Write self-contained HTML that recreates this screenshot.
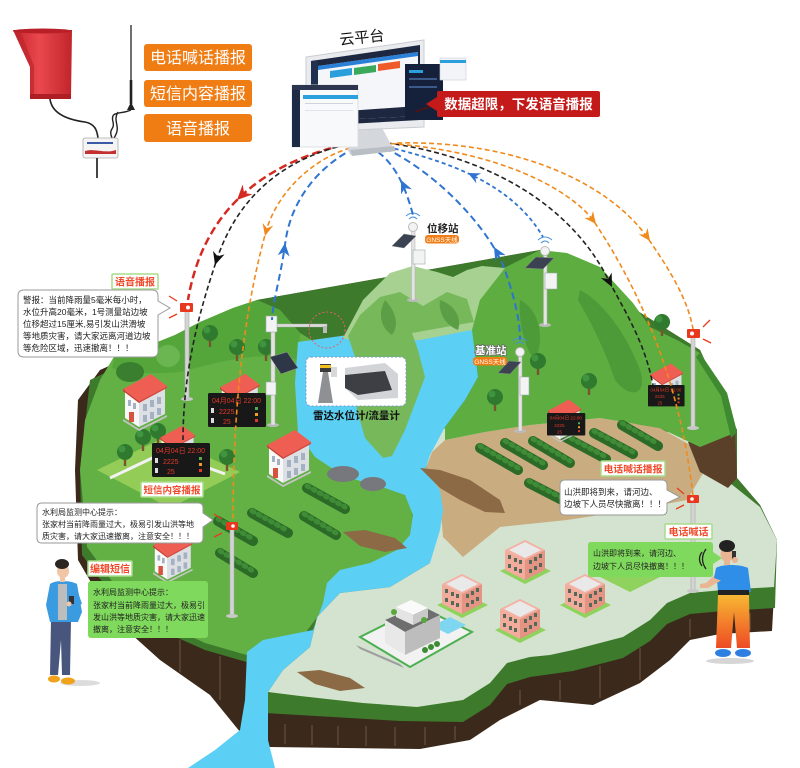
<!DOCTYPE html>
<html><head><meta charset="utf-8">
<style>
html,body{margin:0;padding:0;background:#fff;width:800px;height:768px;overflow:hidden}
svg{display:block}
</style></head><body>
<svg width="800" height="768" viewBox="0 0 800 768" xmlns="http://www.w3.org/2000/svg" style='font-family:"Liberation Sans","Noto Sans CJK SC","WenQuanYi Zen Hei",sans-serif'>
<defs>
<linearGradient id="pg" x1="0" y1="0" x2="0" y2="1"><stop offset="0" stop-color="#f7b733"/><stop offset="1" stop-color="#ee4a24"/></linearGradient>
<linearGradient id="horn" x1="0" y1="0" x2="1" y2="0"><stop offset="0" stop-color="#c7262d"/><stop offset="0.45" stop-color="#e9484d"/><stop offset="1" stop-color="#c0252b"/></linearGradient>
<g id="house">
 <polygon points="0,47 16,57 44,43 44,45 16,59 0,49" fill="#c4c4c4"/>
 <polygon points="2,17 16,27 16,55 2,46" fill="#f8f8f8"/>
 <polygon points="16,27 42,14 42,42 16,55" fill="#dcdfe3"/>
 <polygon points="0,17 28,2 44,14 16,29" fill="#ee5e52"/>
 <polygon points="0,17 16,29 16,31 0,19" fill="#c94036"/>
 <polygon points="16,29 44,14 44,16 16,31" fill="#d84a40"/>
 <g fill="#a3b1c2">
  <rect x="20" y="32" width="4" height="7"/><rect x="27" y="28" width="4" height="7"/><rect x="34" y="25" width="4" height="7"/>
  <rect x="20" y="43" width="4" height="7"/><rect x="27" y="40" width="4" height="7"/><rect x="34" y="36" width="4" height="7"/>
  <rect x="5" y="28" width="3" height="6"/><rect x="10" y="31" width="3" height="6"/>
 </g>
 <rect x="6" y="40" width="5" height="10" fill="#d6533f"/>
</g>
<g id="pink">
 <polygon points="-5,33 20,46 46,33 21,21" fill="#8fd35e"/>
 <polygon points="0,12 20,22 20,42 0,32" fill="#f3ab9b"/>
 <polygon points="20,22 40,12 40,32 20,42" fill="#e39482"/>
 <polygon points="0,12 20,2 40,12 20,22" fill="#f4b0a2"/>
 <polygon points="4,12 20,4 36,12 20,20" fill="#e9e9ea"/>
 <g fill="#56685a">
  <rect x="3" y="17" width="3" height="4"/><rect x="9" y="20" width="3" height="4"/><rect x="14" y="22" width="3" height="4"/>
  <rect x="3" y="26" width="3" height="4"/><rect x="9" y="29" width="3" height="4"/><rect x="14" y="31" width="3" height="4"/>
  <rect x="24" y="22" width="3" height="4"/><rect x="29" y="19" width="3" height="4"/><rect x="34" y="16" width="3" height="4"/>
  <rect x="24" y="31" width="3" height="4"/><rect x="29" y="28" width="3" height="4"/><rect x="34" y="25" width="3" height="4"/>
 </g>
</g>
<g id="tree"><rect x="-1.2" y="0" width="2.4" height="9" fill="#7b5330"/><circle cx="0" cy="-5" r="8" fill="#2f7a2e"/><circle cx="-3" cy="-8" r="3.5" fill="#3f9440"/></g>
</defs>

<!-- ===== ISLAND BASE ===== -->
<path d="M100,370 L78,400 L75,470 L78,560 L110,615 L160,660 L210,695 L245,738 L270,747 L420,749 L470,740 L500,720 L540,700 L593,705 L640,683 L670,660 L690,640 L720,634 L772,631 L777,540 L760,505 L737,478 L737,430 L700,350 L540,250 L257,300 Z" fill="#3b2a1b"/>
<g stroke="#6e5740" stroke-width="1">
 <line x1="285" y1="724" x2="285" y2="744"/><line x1="312" y1="725" x2="312" y2="745"/><line x1="338" y1="726" x2="338" y2="745"/>
 <line x1="366" y1="726" x2="366" y2="746"/><line x1="395" y1="727" x2="395" y2="746"/><line x1="425" y1="727" x2="425" y2="745"/>
 <line x1="455" y1="726" x2="455" y2="740"/><line x1="520" y1="690" x2="520" y2="705"/><line x1="560" y1="680" x2="560" y2="700"/>
 <line x1="600" y1="666" x2="600" y2="698"/><line x1="640" y1="648" x2="640" y2="680"/><line x1="690" y1="619" x2="690" y2="637"/>
 <line x1="720" y1="615" x2="720" y2="632"/><line x1="750" y1="613" x2="750" y2="630"/>
 <line x1="130" y1="608" x2="130" y2="630"/><line x1="180" y1="640" x2="180" y2="672"/><line x1="220" y1="656" x2="220" y2="700"/>
</g>
<path d="M90,380 L80,470 L82,555 L116,600 L160,630 L205,650 L250,663 L265,713 L400,721 L463,722 L490,705 L507,684 L530,677 L573,671 L623,658 L650,641 L667,624 L690,614 L723,611 L775,608 L777,540 L760,505 L737,478 L737,430 L700,350 L540,250 L257,300 Z" fill="#3d7a2c"/>
<path d="M425,430 L600,415 L700,440 L730,483 L760,507 L777,540 L774,587 L723,590 L690,593 L667,603 L650,620 L623,637 L573,650 L550,655 L530,657 L507,663 L490,683 L463,700 L417,707 L363,703 L300,696 L268,692 L283,670 L310,647 L317,617 L340,593 L390,587 L430,563 Z" fill="#d3e3cf"/>
<path d="M432,452 L445,440 L485,432 L530,425 L600,418 L660,428 L690,445 L705,470 L687,500 L633,510 L567,520 L500,527 L463,557 L443,537 L440,500 L425,470 Z" fill="#c9ad81"/>
<path d="M688,442 L735,430 L737,478 L728,488 L700,472 Z" fill="#5b4029"/>
<!-- right hill -->
<path d="M445,440 L445,427 L465,400 L478,377 L472,333 L467,300 L500,270 L540,250 L567,253 L600,267 L633,303 L650,327 L677,340 L700,353 L727,393 L737,432 L700,447 L660,428 L600,418 L530,425 L485,432 Z" fill="#5dad40"/>
<path d="M700,353 L727,393 L737,432 L731,438 L721,396 L696,357 Z" fill="#3f8a30"/>
<path d="M580,290 C600,300 625,330 640,370 C648,395 630,400 615,380 C605,350 590,320 578,300 Z" fill="#4d9a38"/>
<path d="M520,300 C540,310 545,340 535,360 C525,350 518,320 520,300 Z" fill="#4d9a38"/>
<!-- left island -->
<path d="M115,355 L150,345 L175,335 L200,322 L233,308 L257,300 L280,310 L300,333 L320,345 L335,460 L410,495 L416,540 L330,600 L300,640 L250,656 L205,643 L160,622 L120,592 L87,547 L80,470 L85,420 L100,380 Z" fill="#63b145"/>
<path d="M115,355 L150,345 L175,335 L200,322 L233,308 L257,300 L280,310 L300,333 L298,360 C260,350 220,362 180,372 C150,375 125,372 112,368 Z" fill="#55a63a"/>
<path d="M97,470 L165,437 L240,472 L170,508 Z" fill="#93cd57"/>
<path d="M110,478 L165,452 L225,474" fill="none" stroke="#f2f2f2" stroke-width="3"/>
<!-- river -->
<path d="M298,342 L348,335 L412,333 L472,330 L478,377 L465,400 L445,427 L430,455 L425,470 L440,490 L443,510 L440,530 L430,563 L390,587 L340,593 L317,617 L310,647 L283,670 L268,692 L268,740 L275,768 L188,768 L215,750 L240,730 L245,700 L247,652 L263,640 L313,630 L323,603 L327,583 L340,570 L370,563 L397,550 L410,535 L413,515 L405,495 L385,488 L350,478 L330,467 L315,457 L298,433 L295,383 Z" fill="#5ccff5"/>
<!-- center mountains -->
<path d="M343,338 L363,300 L390,273 L413,266 L437,272 L453,277 L467,270 L482,266 L505,268 L480,300 L472,330 L420,340 L360,342 Z" fill="#a6d190"/>
<path d="M348,336 L360,315 L380,297 L400,292 L423,306 L447,292 L467,299 L474,322 L412,333 L418,350 L425,377 L405,430 L392,456 L383,458 L365,438 L357,410 L355,357 Z" fill="#77b95a"/>
<path d="M385,300 C395,310 400,325 392,335 C380,328 378,312 385,300 Z" fill="#5c9e45"/>
<path d="M440,300 C455,305 462,318 458,330 C445,325 438,312 440,300 Z" fill="#5c9e45"/>

<!-- landslides & rocks -->
<path d="M420,468 L440,470 L470,480 L500,500 L505,513 L485,512 L460,500 L440,488 Z" fill="#8b6a45"/>
<path d="M343,532 L365,530 L395,538 L407,548 L385,552 L360,546 Z" fill="#8b6a45"/>
<path d="M297,672 L320,670 L350,678 L365,688 L340,691 L315,684 Z" fill="#8b6a45"/>
<ellipse cx="343" cy="474" rx="16" ry="8" fill="#77787d"/>
<ellipse cx="373" cy="484" rx="13" ry="7" fill="#77787d"/>

<!-- bush rows -->
<g stroke-linecap="round" fill="none">
 <g stroke="#2c6a27" stroke-width="10">
  <line x1="307" y1="488" x2="345" y2="509"/><line x1="304" y1="516" x2="336" y2="535"/>
  <line x1="252" y1="513" x2="288" y2="533"/><line x1="218" y1="521" x2="253" y2="541"/>
  <line x1="220" y1="553" x2="253" y2="573"/>
  <line x1="480" y1="448" x2="518" y2="470"/><line x1="505" y1="443" x2="543" y2="465"/>
  <line x1="533" y1="441" x2="570" y2="463"/><line x1="565" y1="437" x2="606" y2="459"/>
  <line x1="594" y1="433" x2="633" y2="454"/><line x1="622" y1="425" x2="658" y2="446"/>
  <line x1="529" y1="483" x2="568" y2="503"/>
 </g>
 <g stroke="#3f8c37" stroke-width="5" stroke-dasharray="2 5">
  <line x1="307" y1="486" x2="345" y2="507"/><line x1="304" y1="514" x2="336" y2="533"/>
  <line x1="252" y1="511" x2="288" y2="531"/><line x1="218" y1="519" x2="253" y2="539"/>
  <line x1="220" y1="551" x2="253" y2="571"/>
  <line x1="480" y1="446" x2="518" y2="468"/><line x1="505" y1="441" x2="543" y2="463"/>
  <line x1="533" y1="439" x2="570" y2="461"/><line x1="565" y1="435" x2="606" y2="457"/>
  <line x1="594" y1="431" x2="633" y2="452"/><line x1="622" y1="423" x2="658" y2="444"/>
  <line x1="529" y1="481" x2="568" y2="501"/>
 </g>
</g>
<ellipse cx="130" cy="372" rx="14" ry="10" fill="#3a7f30"/>
<ellipse cx="168" cy="356" rx="12" ry="11" fill="#6bb650"/>

<!-- trees -->
<use href="#tree" x="210" y="338"/><use href="#tree" x="237" y="352"/><use href="#tree" x="266" y="352"/>
<use href="#tree" x="125" y="457"/><use href="#tree" x="143" y="442"/><use href="#tree" x="158" y="436"/>
<use href="#tree" x="227" y="462"/><use href="#tree" x="662" y="327"/><use href="#tree" x="538" y="366"/>
<use href="#tree" x="589" y="386"/><use href="#tree" x="495" y="402"/>

<!-- villa -->
<polygon points="360,637 420,607 472,632 410,667" fill="#f2f2f2" stroke="#4caf50" stroke-width="2"/>
<polygon points="356,645 400,664 404,668 360,649" fill="#9e9e9e"/>
<polygon points="432,626 450,617 466,625 448,634" fill="#7fd6f0"/>
<polygon points="385,620 420,605 440,615 405,632" fill="#6e6e6e"/>
<polygon points="385,620 405,632 405,655 385,643" fill="#e8e8e8"/>
<polygon points="405,632 440,615 440,638 405,655" fill="#bdbdbd"/>
<polygon points="396,607 411,600 428,608 413,615" fill="#fafafa"/>
<polygon points="396,607 413,615 413,625 396,617" fill="#e4e4e4"/>
<polygon points="413,615 428,608 428,618 413,625" fill="#c9c9c9"/>
<circle cx="394" cy="612" r="3" fill="#5aa83c"/><circle cx="424" cy="620" r="3" fill="#5aa83c"/>
<circle cx="425" cy="650" r="3" fill="#3c8c32"/><circle cx="431" cy="647" r="3" fill="#3c8c32"/><circle cx="437" cy="644" r="3" fill="#3c8c32"/>

<!-- pink buildings -->
<use href="#pink" x="505" y="538"/><use href="#pink" x="565" y="572"/>
<use href="#pink" x="500" y="597"/><use href="#pink" x="442" y="572"/>
<polygon points="600,577 630,563 660,577 630,592" fill="#8fd35e"/>

<!-- white/red houses -->
<use href="#house" x="123" y="372"/>
<use href="#house" x="267" y="428"/>
<g transform="translate(153,530) scale(0.9)"><use href="#house"/></g>
<g transform="translate(220,372) scale(0.9)"><use href="#house"/></g>
<g transform="translate(160,424) scale(0.8)"><use href="#house"/></g>
<g transform="translate(548,398) scale(0.75)"><use href="#house"/></g>
<g transform="translate(650,362) scale(0.75)"><use href="#house"/></g>

<!-- displays -->
<g transform="translate(208,393)">
 <rect width="58" height="34" rx="1.5" fill="#181818"/>
 <text x="4" y="10" font-size="7" fill="#e23a2a">04月04日 22:00</text>
 <text x="11" y="21" font-size="7" fill="#e23a2a">2225</text>
 <text x="15" y="31" font-size="7" fill="#e23a2a">25</text>
 <rect x="47" y="14" width="3" height="3" fill="#4caf50"/><rect x="47" y="20" width="3" height="3" fill="#f0a020"/><rect x="47" y="26" width="3" height="3" fill="#e23a2a"/>
 <rect x="3" y="15" width="3" height="5" fill="#ddd"/><rect x="3" y="25" width="3" height="5" fill="#ddd"/>
</g>
<g transform="translate(152,443)">
 <rect width="58" height="34" rx="1.5" fill="#181818"/>
 <text x="4" y="10" font-size="7" fill="#e23a2a">04月04日 22:00</text>
 <text x="11" y="21" font-size="7" fill="#e23a2a">2225</text>
 <text x="15" y="31" font-size="7" fill="#e23a2a">25</text>
 <rect x="47" y="14" width="3" height="3" fill="#4caf50"/><rect x="47" y="20" width="3" height="3" fill="#f0a020"/><rect x="47" y="26" width="3" height="3" fill="#e23a2a"/>
 <rect x="3" y="15" width="3" height="5" fill="#ddd"/><rect x="3" y="25" width="3" height="5" fill="#ddd"/>
</g>
<g transform="translate(547,413) scale(0.66)">
 <rect width="58" height="34" rx="1.5" fill="#181818"/>
 <text x="4" y="10" font-size="7" fill="#e23a2a">04月04日 22:00</text>
 <text x="11" y="21" font-size="7" fill="#e23a2a">2225</text>
 <text x="15" y="31" font-size="7" fill="#e23a2a">25</text>
 <rect x="47" y="14" width="3" height="3" fill="#4caf50"/><rect x="47" y="20" width="3" height="3" fill="#f0a020"/><rect x="47" y="26" width="3" height="3" fill="#e23a2a"/>
</g>
<g transform="translate(648,385) scale(0.63)">
 <rect width="58" height="34" rx="1.5" fill="#181818"/>
 <text x="4" y="10" font-size="7" fill="#e23a2a">04月04日 22:00</text>
 <text x="11" y="21" font-size="7" fill="#e23a2a">2225</text>
 <text x="15" y="31" font-size="7" fill="#e23a2a">25</text>
 <rect x="47" y="14" width="3" height="3" fill="#4caf50"/><rect x="47" y="20" width="3" height="3" fill="#f0a020"/><rect x="47" y="26" width="3" height="3" fill="#e23a2a"/>
</g>

<!-- speaker poles -->
<g fill="#d4d4d4" stroke="#a8a8a8" stroke-width="0.6">
 <rect x="185" y="311" width="4" height="88"/>
 <rect x="230" y="529" width="4" height="87"/>
 <rect x="691" y="336" width="4" height="92"/>
 <rect x="691" y="502" width="4" height="89"/>
</g>
<g fill="#c8c8c8"><ellipse cx="187" cy="399" rx="6" ry="2"/><ellipse cx="232" cy="616" rx="6" ry="2"/><ellipse cx="693" cy="428" rx="6" ry="2"/><ellipse cx="693" cy="591" rx="6" ry="2"/></g>
<g fill="#e8391f">
 <rect x="180" y="303" width="13" height="9" rx="1"/>
 <rect x="226" y="522" width="12" height="8" rx="1"/>
 <rect x="687" y="329" width="13" height="9" rx="1"/>
 <rect x="687" y="495" width="12" height="8" rx="1"/>
</g>
<g fill="#fff"><circle cx="188" cy="307.5" r="2"/><circle cx="233" cy="526" r="1.8"/><circle cx="692" cy="333.5" r="2"/><circle cx="692" cy="499" r="1.8"/></g>
<g stroke="#e8391f" stroke-width="1.3" fill="none">
 <path d="M177,301 L169,296 M177,314 L169,318"/>
 <path d="M222,519 L214,514 M222,533 L214,537"/>
 <path d="M703,327 L710,320 M703,339 L711,343"/>
 <path d="M684,494 L677,488 M684,505 L676,509"/>
</g>

<!-- stations -->
<g>
 <ellipse cx="413" cy="300" rx="6" ry="2" fill="#bbb"/>
 <rect x="411.5" y="226" width="3.5" height="74" fill="#e3e3e3" stroke="#b0b0b0" stroke-width="0.5"/>
 <polygon points="392,246 404,234 416,236 404,248" fill="#3b4252" stroke="#888" stroke-width="0.5"/>
 <rect x="413" y="250" width="12" height="14" fill="#f3f3f3" stroke="#9aa" stroke-width="0.6"/>
 <circle cx="413" cy="227" r="4.5" fill="#f2f2f2" stroke="#bbb"/>
 <path d="M409,219 Q413,215 417,219 M406,216 Q413,210 420,216" stroke="#4a8fe0" fill="none" stroke-width="1"/>
</g>
<g>
 <ellipse cx="545" cy="325" rx="6" ry="2" fill="#bbb"/>
 <rect x="543.5" y="250" width="3.5" height="75" fill="#e3e3e3" stroke="#b0b0b0" stroke-width="0.5"/>
 <polygon points="525,268 536,257 554,258 543,269" fill="#3b4252" stroke="#888" stroke-width="0.5"/>
 <rect x="545" y="273" width="12" height="16" fill="#f3f3f3" stroke="#9aa" stroke-width="0.6"/>
 <circle cx="545" cy="251" r="4.5" fill="#f2f2f2" stroke="#bbb"/>
 <path d="M541,243 Q545,239 549,243 M538,240 Q545,234 552,240" stroke="#4a8fe0" fill="none" stroke-width="1"/>
</g>
<g>
 <ellipse cx="520" cy="431" rx="6" ry="2" fill="#bbb"/>
 <rect x="518.5" y="352" width="3.5" height="79" fill="#e3e3e3" stroke="#b0b0b0" stroke-width="0.5"/>
 <polygon points="498,373 509,361 521,362 510,374" fill="#3b4252" stroke="#888" stroke-width="0.5"/>
 <rect x="520" y="377" width="9" height="18" fill="#f3f3f3" stroke="#9aa" stroke-width="0.6"/>
 <circle cx="520" cy="352" r="4.5" fill="#f2f2f2" stroke="#bbb"/>
 <path d="M516,344 Q520,340 524,344 M513,341 Q520,335 527,341" stroke="#4a8fe0" fill="none" stroke-width="1"/>
</g>
<!-- monitoring pole near river -->
<g>
 <ellipse cx="273" cy="425" rx="6" ry="2" fill="#bbb"/>
 <rect x="271" y="318" width="4" height="107" fill="#e3e3e3" stroke="#b0b0b0" stroke-width="0.5"/>
 <rect x="273" y="324" width="54" height="3" fill="#dcdcdc" stroke="#aaa" stroke-width="0.4"/>
 <rect x="323" y="326" width="4" height="7" fill="#bbb"/>
 <rect x="266" y="316" width="11" height="16" fill="#f3f3f3" stroke="#9aa" stroke-width="0.6"/>
 <polygon points="270,357 287,352 298,368 281,374" fill="#2e3748" stroke="#999" stroke-width="0.5"/>
 <rect x="266" y="382" width="10" height="13" fill="#f3f3f3" stroke="#9aa" stroke-width="0.6"/>
</g>

<!-- radar box -->
<circle cx="327" cy="330" r="18" fill="none" stroke="#e0606a" stroke-width="1" stroke-dasharray="2 2"/>
<rect x="306" y="357" width="100" height="49" rx="5" fill="#fff" stroke="#7a9ac8" stroke-width="1" stroke-dasharray="2 2"/>
<polygon points="318,403 323,372 328,372 333,403" fill="#8e9094"/>
<rect x="320" y="364" width="11" height="8" fill="#3b3b3b"/><rect x="320" y="365" width="11" height="3" fill="#f0c020"/>
<rect x="331" y="367" width="6" height="10" fill="#d8d8d8"/>
<polygon points="345,368 385,363 398,374 398,398 358,400 345,388" fill="#d2d4d8"/>
<polygon points="345,375 385,371 392,390 358,395 345,388" fill="#3e3f44"/>
<text x="313" y="419" font-size="10.5" font-weight="bold" fill="#111">雷达水位计/流量计</text>

<!-- ===== ARCS ===== -->
<g fill="none">
 <path d="M343,145 Q208.5,177.5 188,300" stroke="#d42a22" stroke-width="2.5" stroke-dasharray="8 4"/>
 <path d="M345,145 C280,160 235,200 215,265 C200,310 183,370 183,440" stroke="#222" stroke-width="1.6" stroke-dasharray="5 3"/>
 <path d="M350,148 C310,160 275,195 265,235 C250,290 233,380 233,520" stroke="#f08a1c" stroke-width="1.6" stroke-dasharray="5 3"/>
 <path d="M355,148 C320,165 290,200 285,245 C280,280 273,300 272,320" stroke="#2f74d0" stroke-width="2" stroke-dasharray="7 4"/>
 <path d="M378,152 C395,165 405,185 413,215" stroke="#2f74d0" stroke-width="2" stroke-dasharray="7 4"/>
 <path d="M385,148 C440,175 490,230 505,270 C515,300 520,320 520,340" stroke="#2f74d0" stroke-width="2" stroke-dasharray="7 4"/>
 <path d="M388,147 C440,160 510,180 543,237" stroke="#2f74d0" stroke-width="1.8" stroke-dasharray="4 3"/>
 <path d="M387,143 C480,155 570,200 610,283 C630,320 645,345 653,385" stroke="#222" stroke-width="1.6" stroke-dasharray="5 3"/>
 <path d="M383,143 C500,150 570,190 593,220 C640,290 680,380 693,496" stroke="#f08a1c" stroke-width="1.6" stroke-dasharray="5 3"/>
 <path d="M397,143 C520,140 610,185 647,237 C670,270 688,300 693,329" stroke="#f08a1c" stroke-width="1.6" stroke-dasharray="5 3"/>
</g>
<polygon points="0,0 -15,-7 -10,0 -15,7" fill="#d42a22" transform="translate(237,200) rotate(135)"/>
<polygon points="0,0 -13,-6 -9,0 -13,6" fill="#111" transform="translate(215,265) rotate(107)"/>
<polygon points="0,0 -12,-5.5 -8,0 -12,5.5" fill="#f08a1c" transform="translate(265,236) rotate(104)"/>
<polygon points="0,0 -13,-6 -9,0 -13,6" fill="#2f74d0" transform="translate(285,243) rotate(-84)"/>
<polygon points="0,0 -13,-6 -9,0 -13,6" fill="#2f74d0" transform="translate(401,180) rotate(-115)"/>
<polygon points="0,0 -13,-6 -9,0 -13,6" fill="#2f74d0" transform="translate(494,247) rotate(-120)"/>
<polygon points="0,0 -12,-5.5 -8,0 -12,5.5" fill="#2f74d0" transform="translate(468,173) rotate(-154)"/>
<polygon points="0,0 -13,-6 -9,0 -13,6" fill="#111" transform="translate(612,287) rotate(64)"/>
<polygon points="0,0 -12,-5.5 -8,0 -12,5.5" fill="#f08a1c" transform="translate(596,224) rotate(52)"/>
<polygon points="0,0 -12,-5.5 -8,0 -12,5.5" fill="#f08a1c" transform="translate(650,241) rotate(55)"/>

<!-- ===== MONITOR ===== -->
<polygon points="342,126 380,124 394,150 350,155" fill="#d4d8dd"/>
<polygon points="350,150 394,146 396,151 352,156" fill="#b9bec5"/>
<polygon points="306,57 424,40 424,127 306,132" fill="#e9ebee" stroke="#c9ccd1"/>
<polygon points="311,61 420,45 420,120 311,126" fill="#1e2740"/>
<polygon points="318,66 418,52 418,116 318,121" fill="#f4f6f9"/>
<polygon points="318,66 418,52 418,56 318,70" fill="#2a7fd6"/>
<polygon points="330,71 352,68 352,75 330,78" fill="#2a9fdc"/>
<polygon points="354,68 376,65 376,72 354,75" fill="#3aaa5a"/>
<polygon points="378,64 400,61 400,68 378,71" fill="#ef5a2a"/>
<polygon points="311,61 318,60 318,121 311,126" fill="#20304f"/>
<polygon points="318,113 418,106 418,116 318,121" fill="#1e2740"/>
<rect x="405" y="64" width="38" height="56" fill="#15213a"/>
<rect x="409" y="70" width="14" height="3" fill="#2a9fdc"/><rect x="409" y="78" width="28" height="2" fill="#3b5a8a"/><rect x="409" y="86" width="28" height="2" fill="#3b5a8a"/>
<rect x="440" y="58" width="26" height="22" fill="#f2f4f7" stroke="#ccd" stroke-width="0.6"/>
<rect x="440" y="60" width="26" height="3" fill="#2a9fdc"/>
<rect x="292" y="85" width="66" height="62" fill="#f8f9fb" stroke="#d6d9de" stroke-width="0.8"/>
<rect x="292" y="85" width="66" height="5" fill="#2b3550"/>
<rect x="292" y="90" width="8" height="57" fill="#1d2a44"/>
<rect x="303" y="95" width="55" height="4" fill="#2aa0dc"/>
<rect x="305" y="103" width="48" height="1" fill="#d0d4da"/><rect x="305" y="110" width="48" height="1" fill="#e0e3e8"/>
<text x="340" y="45" font-size="15" fill="#111" transform="rotate(-6 340 45)">云平台</text>
<line x1="415" y1="112" x2="437" y2="104" stroke="#5a1010" stroke-width="1.5"/>
<polygon points="437,97 426,104 437,111" fill="#c41a1a"/>
<rect x="437" y="91" width="163" height="26" rx="2" fill="#c41a1a"/>
<text x="518.5" y="109" font-size="13.5" font-weight="bold" fill="#fff" text-anchor="middle">数据超限，下发语音播报</text>

<!-- ===== TOP-LEFT DEVICES ===== -->
<path d="M13,30 L72,30 L71,98 L30,98 L30,67 Z" fill="url(#horn)"/>
<path d="M13,30 L30,67 L30,98 L34,98 L34,66 L20,30 Z" fill="#b8232a" opacity="0.6"/>
<ellipse cx="42.5" cy="31" rx="29.5" ry="2.5" fill="#b81f27"/>
<rect x="30" y="94" width="41" height="5" fill="#b01e25"/>
<path d="M50,99 C52,115 70,120 85,122 C95,124 97,130 98,138" fill="none" stroke="#222" stroke-width="1.6"/>
<line x1="131" y1="25" x2="131" y2="104" stroke="#333" stroke-width="1.4"/>
<line x1="131" y1="80" x2="131" y2="104" stroke="#222" stroke-width="2.6"/>
<polygon points="127,110 131,102 135,110" fill="#222"/>
<path d="M131,110 C120,115 110,110 113,122 C115,130 108,128 112,138 M118,112 C112,122 122,126 114,138" fill="none" stroke="#222" stroke-width="1.4"/>
<rect x="83" y="138" width="35" height="20" rx="2" fill="#f4f4f4" stroke="#aaa" stroke-width="0.8"/>
<rect x="87" y="142" width="26" height="2" fill="#3a5aa8"/>
<path d="M85,151 C95,148 105,154 116,150 L116,154 L85,154 Z" fill="#c43030"/>
<line x1="97" y1="158" x2="97" y2="178" stroke="#444" stroke-width="2"/>

<!-- buttons -->
<g fill="#f07c14">
 <rect x="144" y="44" width="108" height="27" rx="3"/>
 <rect x="144" y="80" width="108" height="27" rx="3"/>
 <rect x="144" y="114" width="108" height="28" rx="3"/>
</g>
<g fill="#fff" font-size="16" text-anchor="middle">
 <text x="198" y="63">电话喊话播报</text>
 <text x="198" y="99">短信内容播报</text>
 <text x="198" y="134">语音播报</text>
</g>

<!-- station labels -->
<text x="427" y="232" font-size="10.5" font-weight="bold" fill="#222">位移站</text>
<rect x="425" y="235" width="34" height="8.5" rx="3" fill="#f07c14"/>
<text x="442" y="242" font-size="6.5" fill="#fff" text-anchor="middle">GNSS天线</text>
<text x="475" y="354" font-size="10.5" font-weight="bold" fill="#fff" stroke="#666" stroke-width="1.4" paint-order="stroke">基准站</text>
<rect x="473" y="357" width="34" height="8.5" rx="3" fill="#f07c14"/>
<text x="490" y="364" font-size="6.5" fill="#fff" text-anchor="middle">GNSS天线</text>

<!-- ===== LABELS ===== -->
<g fill="#fff" stroke="#a8dc8c" stroke-width="1.5">
 <rect x="112" y="274" width="46" height="15" rx="1"/>
 <rect x="141" y="482" width="62" height="15" rx="1"/>
 <rect x="88" y="561" width="44" height="15" rx="1"/>
 <rect x="601" y="461" width="64" height="15" rx="1"/>
 <rect x="665" y="524" width="47" height="15" rx="1"/>
</g>
<g fill="#f04a2a" font-weight="bold" text-anchor="middle">
 <text x="135" y="285.5" font-size="10">语音播报</text>
 <text x="172" y="493.5" font-size="9.5">短信内容播报</text>
 <text x="110" y="572.5" font-size="10">编辑短信</text>
 <text x="633" y="472.5" font-size="9.8">电话喊话播报</text>
 <text x="688.5" y="535.5" font-size="10">电话喊话</text>
</g>

<!-- ===== BUBBLES ===== -->
<path d="M24,290 L152,290 Q158,290 158,296 L158,301 L170,308 L158,315 L158,351 Q158,357 152,357 L24,357 Q18,357 18,351 L18,296 Q18,290 24,290 Z" fill="#fff" stroke="#9a9a9a" stroke-width="1"/>
<g font-size="8.5" fill="#222">
 <text x="23" y="303">警报：当前降雨量5毫米每小时，</text>
 <text x="23" y="315">水位升高20毫米，1号测量站边坡</text>
 <text x="23" y="327">位移超过15厘米,易引发山洪滑坡</text>
 <text x="23" y="339">等地质灾害，请大家远离河道边坡</text>
 <text x="23" y="351">等危险区域，迅速撤离！！！</text>
</g>
<path d="M42,503 L198,503 Q203,503 203,508 L203,513 L213,520 L203,527 L203,538 Q203,543 198,543 L42,543 Q37,543 37,538 L37,508 Q37,503 42,503 Z" fill="#fff" stroke="#9a9a9a" stroke-width="1"/>
<g font-size="8" fill="#222">
 <text x="42" y="515">水利局监测中心提示：</text>
 <text x="42" y="527">张家村当前降雨量过大，极易引发山洪等地</text>
 <text x="42" y="539">质灾害，请大家迅速撤离，注意安全！！！</text>
</g>
<rect x="88" y="581" width="120" height="57" rx="3" fill="#7fd95c"/>
<g font-size="8" fill="#222">
 <text x="93" y="595">水利局监测中心提示：</text>
 <text x="93" y="608">张家村当前降雨量过大，极易引</text>
 <text x="93" y="620">发山洪等地质灾害，请大家迅速</text>
 <text x="93" y="632">撤离，注意安全！！！</text>
</g>
<path d="M565,480 L662,480 Q667,480 667,485 L667,490 L680,497 L667,503 L667,510 Q667,515 662,515 L565,515 Q560,515 560,510 L560,485 Q560,480 565,480 Z" fill="#fff" stroke="#9a9a9a" stroke-width="1"/>
<g font-size="8.5" fill="#222">
 <text x="564" y="495">山洪即将到来，请河边、</text>
 <text x="564" y="507">边坡下人员尽快撤离！！！</text>
</g>
<path d="M591,542 L710,542 Q713,542 713,545 L713,552 L722,558 L713,564 L713,574 Q713,577 710,577 L591,577 Q588,577 588,574 L588,545 Q588,542 591,542 Z" fill="#7fd95c"/>
<g font-size="8" fill="#222">
 <text x="593" y="556">山洪即将到来，请河边、</text>
 <text x="593" y="569">边坡下人员尽快撤离！！！</text>
</g>
<path d="M702,552 Q697,559 702,566 M706,549 Q699,559 706,569" fill="none" stroke="#222" stroke-width="1.3"/>

<!-- ===== PEOPLE ===== -->
<ellipse cx="80" cy="683" rx="20" ry="3" fill="#dcdcdc"/>
<path d="M51,620 L71,620 L70,675 L62,675 L61,640 L58,675 L50,675 Z" fill="#48567e"/>
<ellipse cx="54" cy="679" rx="6" ry="3.5" fill="#f0a21c"/>
<ellipse cx="68" cy="681" rx="7" ry="3.5" fill="#f0a21c"/>
<path d="M50,584 C55,580 70,580 77,584 L82,612 L78,622 L50,622 L46,605 Z" fill="#3b9be0"/>
<rect x="58" y="584" width="9" height="36" fill="#bdbdbd"/>
<path d="M76,586 L82,604 L70,607 L68,601 L76,600 Z" fill="#3b9be0"/>
<rect x="69" y="596" width="5" height="8" fill="#333"/>
<circle cx="69" cy="604" r="2.5" fill="#f1c6a6"/>
<rect x="60" y="576" width="5" height="6" fill="#f1c6a6"/>
<ellipse cx="63" cy="571" rx="6" ry="7" fill="#f1c6a6"/>
<ellipse cx="62" cy="564" rx="7" ry="5" fill="#2c2420"/>

<ellipse cx="730" cy="661" rx="24" ry="3" fill="#d6d6d6"/>
<path d="M718,595 L749,595 L750,648 L737,648 L734,612 L731,648 L716,648 Z" fill="url(#pg)"/>
<ellipse cx="723" cy="653" rx="8" ry="4" fill="#2f7fe0"/>
<ellipse cx="743" cy="653" rx="8" ry="4" fill="#2f7fe0"/>
<path d="M716,568 C722,564 740,564 748,568 L751,592 L718,592 Z" fill="#2f8fe8"/>
<path d="M718,572 L706,583 L700,584 L700,588 L708,588 L722,580 Z" fill="#e9b592"/>
<path d="M716,568 L724,570 L722,581 L714,578 Z" fill="#2f8fe8"/>
<rect x="718" y="590" width="31" height="5" fill="#222"/>
<rect x="724" y="559" width="6" height="6" fill="#e9b592"/>
<ellipse cx="727" cy="554" rx="6.5" ry="8" fill="#e9b592"/>
<ellipse cx="727" cy="546" rx="8" ry="6" fill="#222"/>
<rect x="732" y="551" width="4" height="9" fill="#333"/>
<circle cx="735" cy="560" r="3" fill="#e9b592"/>
</svg>
</body></html>
